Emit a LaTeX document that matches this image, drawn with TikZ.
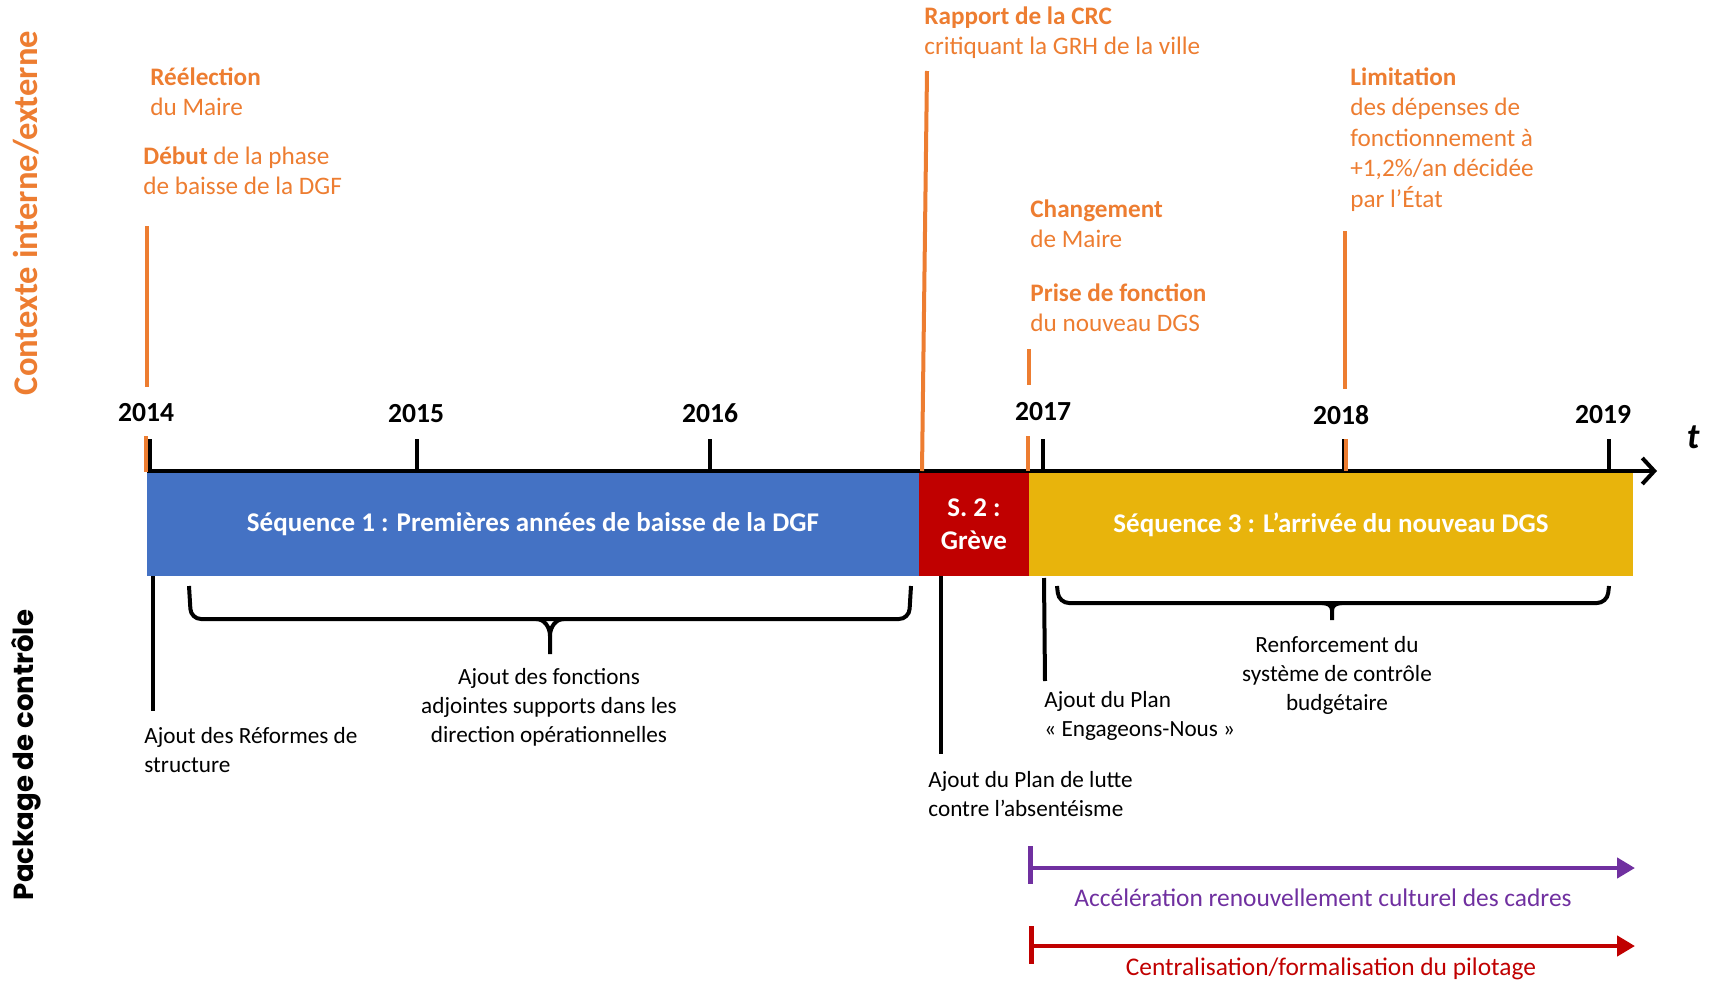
\documentclass[tikz,border=0pt]{standalone}
\usepackage{fontspec}
\setmainfont{Carlito}
\newfontfamily\geofont{Poppins}
\usetikzlibrary{arrows.meta}
\definecolor{ctxorange}{RGB}{237,125,49}
\definecolor{seqblue}{RGB}{68,114,196}
\definecolor{seqred}{RGB}{192,0,0}
\definecolor{seqgold}{RGB}{232,180,12}
\definecolor{pkgpurple}{RGB}{112,48,160}

\begin{document}
\begin{tikzpicture}[
		x=0.5pt, y=-0.5pt,
		every node/.style={inner sep=0pt, font=\fontsize{11.6}{14.5}\selectfont},
		ctx/.style={text=ctxorange, align=left, anchor=west, font=\fontsize{12.6}{15.2}\selectfont},
		pkg/.style={align=left, anchor=west},
		pkgc/.style={align=center},
		year/.style={font=\bfseries\fontsize{13.8}{15}\selectfont},
		bar/.style={text=white, align=center, font=\bfseries\fontsize{13.5}{16.5}\selectfont, minimum height=51.5pt},
		ctxline/.style={ctxorange, line width=2pt},
		tickline/.style={line width=1.6pt},
		brace/.style={line width=2pt, rounded corners=5pt},
		pkgline/.style={line width=2pt}
	]
  \useasboundingbox (0,0) rectangle (1709,985);
  \node (contexte) [rotate=90, text=ctxorange, font=\bfseries\fontsize{17.3}{20}\selectfont] at (26,213) {Contexte interne/externe};
  \node (package) [rotate=90, font=\geofont\bfseries\fontsize{13.8}{16}\selectfont] at (26,755) {Package de contrôle};
  \node (reelection) [ctx] at (150,91.5) {\textbf{Réélection}\\du Maire};
  \node (debut) [ctx] at (143,170.5) {\textbf{Début} de la phase\\de baisse de la DGF};
  \node (crc) [ctx] at (924,32.5) {\textbf{Rapport de la CRC}\\critiquant la GRH de la ville};
  \node (maire) [ctx] at (1030,223.5) {\textbf{Changement}\\de Maire};
  \node (dgs) [ctx] at (1030,307.5) {\textbf{Prise de fonction}\\du nouveau DGS};
  \node (limitation) [ctx] at (1350,139.5) {\textbf{Limitation}\\des dépenses de\\fonctionnement à\\+1,2\%/an décidée\\par l’État};
  \node (y_2014) [year] at (146,413) {2014};
  \node (y_2015) [year] at (416,414) {2015};
  \node (y_2016) [year] at (710,413) {2016};
  \node (y_2017) [year] at (1043,412) {2017};
  \node (y_2018) [year] at (1341,415) {2018};
  \node (y_2019) [year] at (1603,415) {2019};
  \node (t) [font=\bfseries\itshape\fontsize{18}{20}\selectfont] at (1693,437) {t};
  \node (seq_1) [bar, fill=seqblue, minimum width=386pt] at (533,524.5) {Séquence 1 : Premières années de baisse de la DGF};
  \node (seq_2) [bar, fill=seqred, minimum width=55pt] at (974,524.5) {S. 2 :\\Grève};
  \node (seq_3) [bar, fill=seqgold, minimum width=302pt] at (1331,524.5) {Séquence 3 : L’arrivée du nouveau DGS};
  \coordinate (axis_start) at (147,471);
  \coordinate (axis_end) at (1657,471);
  \draw[line width=2pt, -{Straight Barb[length=6pt, width=13pt]}] (axis_start) -- (axis_end);
  \foreach \x/\yr in {150/2014, 417/2015, 710/2016, 1043/2017, 1609/2019, 1344/2018}
    \draw[tickline] (\x,439) -- (\x,471);
  \coordinate (reelection_top) at (147,226);
  \coordinate (reelection_bot) at (147,387);
  \draw[ctxline] (reelection_top) -- (reelection_bot);
  \draw[ctxline] (146,436) -- (146,472);
  \coordinate (crc_top) at (927,71);
  \coordinate (crc_bot) at (922,471);
  \draw[ctxline] (crc_top) -- (crc_bot);
  \coordinate (dgs_top) at (1029,349);
  \coordinate (dgs_bot) at (1029,385);
  \draw[ctxline] (dgs_top) -- (dgs_bot);
  \draw[ctxline] (1028,436) -- (1028,471);
  \coordinate (limitation_top) at (1345,231);
  \coordinate (limitation_bot) at (1345,389);
  \draw[ctxline] (limitation_top) -- (limitation_bot);
  \draw[ctxline] (1346,439) -- (1346,471);
  \node (reformes) [pkg] at (144,750.5) {Ajout des Réformes de\\structure};
  \coordinate (reformes_top) at (153,576);
  \coordinate (reformes_bot) at (153,711);
  \draw[pkgline] (reformes_top) -- (reformes_bot);
  \node (fonctions) [pkgc] at (549,707) {Ajout des fonctions\\adjointes supports dans les\\direction opérationnelles};
  \draw[brace] (189,586) -- (191,619) -- (909,619) -- (911,586);
  \draw[pkgline] (536,619) to[out=0, in=90] (550,636) -- (550,654);
  \draw[pkgline] (564,619) to[out=180, in=90] (550,636);
  \node (absenteisme) [pkg] at (928,794.5) {Ajout du Plan de lutte\\contre l’absentéisme};
  \coordinate (absenteisme_top) at (941,576);
  \coordinate (absenteisme_bot) at (941,754);
  \draw[pkgline] (absenteisme_top) -- (absenteisme_bot);
  \node (engageons) [pkg] at (1044,716) {Ajout du Plan\\«~Engageons-Nous~»};
  \coordinate (engageons_top) at (1044,578);
  \coordinate (engageons_bot) at (1045,681);
  \draw[pkgline] (engageons_top) -- (engageons_bot);
  \node (budget) [pkgc] at (1337,675) {Renforcement du\\système de contrôle\\budgétaire};
  \draw[brace] (1057,586) -- (1059,603) -- (1607,603) -- (1609,586);
  \draw[pkgline] (1322,603) to[out=0, in=90] (1332,610) -- (1332,620);
  \draw[pkgline] (1342,603) to[out=180, in=90] (1332,610);
  \coordinate (cadres_start) at (1030,868);
  \coordinate (cadres_end) at (1635,868);
  \draw[pkgpurple, line width=2.5pt] (1030,846) -- (1030,884);
  \draw[pkgpurple, line width=2.2pt, -{Triangle[length=9pt, width=10pt]}] (cadres_start) -- (cadres_end);
  \node (cadres) [text=pkgpurple, font=\fontsize{12.7}{14}\selectfont] at (1323,898) {Accélération renouvellement culturel des cadres};
  \coordinate (pilotage_start) at (1031,946);
  \coordinate (pilotage_end) at (1635,946);
  \draw[seqred, line width=2.5pt] (1031,926) -- (1031,964);
  \draw[seqred, line width=2.2pt, -{Triangle[length=9pt, width=10pt]}] (pilotage_start) -- (pilotage_end);
  \node (pilotage) [text=seqred, font=\fontsize{12.7}{14}\selectfont] at (1331,969) {Centralisation/formalisation du pilotage};
\end{tikzpicture}
\end{document}
